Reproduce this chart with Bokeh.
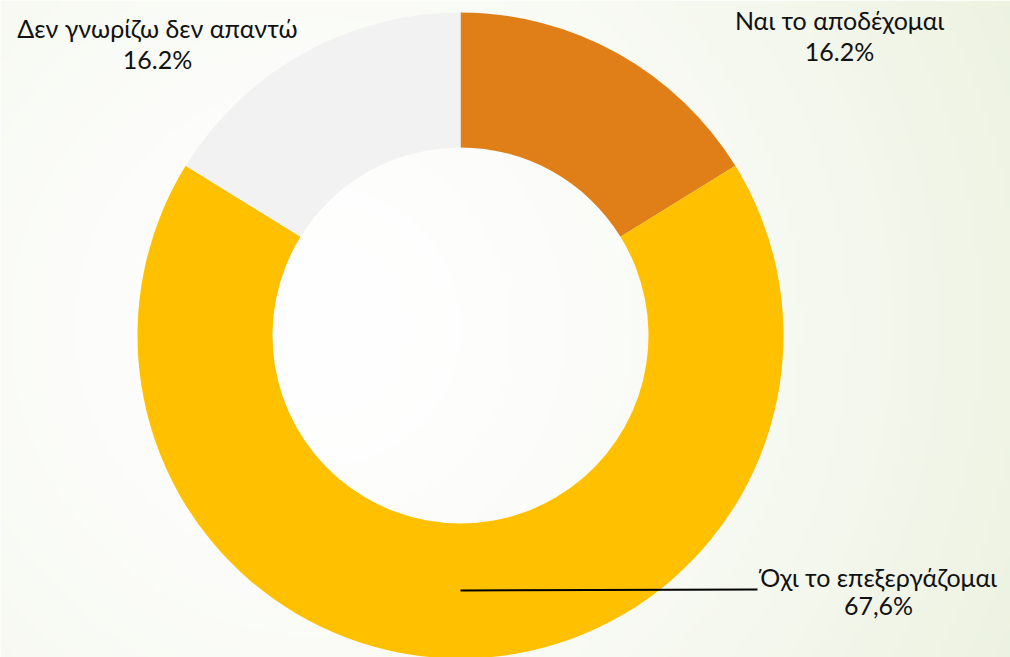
import numpy as np
from bokeh.plotting import figure
from bokeh.models import ColumnDataSource, Range1d
from bokeh.core.properties import value
from bokeh.embed import file_html
from bokeh.resources import INLINE

# ---- data ----
categories = ["Ναι το αποδέχομαι", "Όχι το επεξεργάζομαι", "Δεν γνωρίζω δεν απαντώ"]
values = [16.2, 67.6, 16.2]
value_labels = ["16.2%", "67,6%", "16.2%"]
colors = ["#E07F18", "#FFC000", "#F2F2F2"]

W, H = 1010, 657
p = figure(width=W, height=H, output_backend="svg", toolbar_location=None,
           x_range=Range1d(0, W), y_range=Range1d(0, H),
           min_border=0, outline_line_color=None)
p.axis.visible = False
p.grid.visible = False
p.background_fill_color = "#FFFFFF"
p.border_fill_color = "#FFFFFF"

# ---- subtle radial background gradient ----
gw, gh = W // 4, H // 4
gx, gy = np.meshgrid(np.linspace(0, W, gw), np.linspace(0, H, gh))
d = np.sqrt((gx - 320) ** 2 + (gy - 330) ** 2) / 780.0
t = np.clip(d, 0, 1) ** 1.6
c0 = np.array([255, 255, 255])
c1 = np.array([236, 242, 224])
rgb = c0[None, None, :] * (1 - t[..., None]) + c1[None, None, :] * t[..., None]
img = np.empty((gh, gw), dtype=np.uint32)
view = img.view(dtype=np.uint8).reshape((gh, gw, 4))
view[..., 0] = rgb[..., 0].astype(np.uint8)
view[..., 1] = rgb[..., 1].astype(np.uint8)
view[..., 2] = rgb[..., 2].astype(np.uint8)
view[..., 3] = 255
p.image_rgba(image=[img], x=0, y=0, dw=W, dh=H)

# ---- donut ----
cx, cy = 460, 322
r_out, r_in = 323, 188
total = sum(values)
fracs = np.array(values) / total
cum = np.concatenate([[0], np.cumsum(fracs)])
start = np.pi / 2 - cum[:-1] * 2 * np.pi
end = np.pi / 2 - cum[1:] * 2 * np.pi
src = ColumnDataSource(dict(start=start, end=end, color=colors, cat=categories))
p.annular_wedge(x=cx, y=cy, inner_radius=r_in, outer_radius=r_out,
                start_angle="start", end_angle="end", direction="clock",
                fill_color="color", line_color=None, source=src)

# leader line for big slice
p.line(x=[460, 757], y=[67, 68], line_color="black", line_width=2)

# ---- labels ----
label_pos = [(839, 638, 607), (878, 81, 53), (157, 630, 599)]
font = value("Lato")
for (lx, y1, y2), cat, vl in zip(label_pos, categories, value_labels):
    p.text(x=[lx], y=[y1], text=[cat], text_font=font, text_font_size="25px",
           text_align="center", text_baseline="middle", text_color="#111111")
    p.text(x=[lx], y=[y2], text=[vl], text_font=font, text_font_size="25px",
           text_align="center", text_baseline="middle", text_color="#111111")

open("out.html", "w").write(file_html(p, INLINE))
